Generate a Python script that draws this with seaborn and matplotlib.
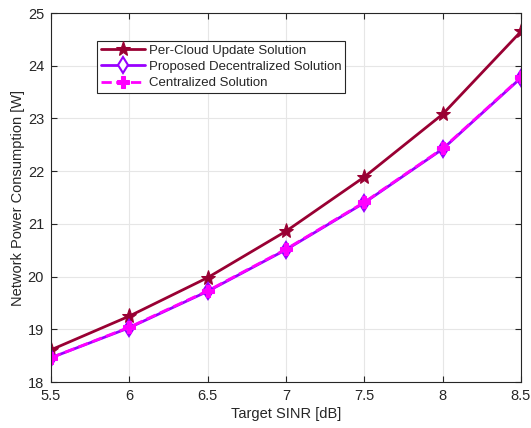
import matplotlib
matplotlib.use("Agg")
import matplotlib.pyplot as plt
import seaborn as sns
import pandas as pd

sinr = [5.5, 6.0, 6.5, 7.0, 7.5, 8.0, 8.5]
per_cloud = [18.61, 19.25, 19.98, 20.86, 21.89, 23.08, 24.65]
proposed = [18.46, 19.03, 19.72, 20.51, 21.40, 22.42, 23.77]
centralized = [18.46, 19.04, 19.73, 20.52, 21.41, 22.43, 23.78]
labels = ["Per-Cloud Update Solution", "Proposed Decentralized Solution", "Centralized Solution"]

sns.set_style("white")
plt.rcParams['font.family'] = ['Liberation Sans', 'DejaVu Sans']

fig = plt.figure(figsize=(5.31, 4.28), dpi=100)
ax = fig.add_axes([51/531, 1-382/428, 470/531, 369/428])

df = pd.DataFrame({"x": sinr, "a": per_cloud, "b": proposed, "c": centralized})
sns.lineplot(data=df, x="x", y="a", ax=ax, color="#990033", lw=2, marker="*",
             markersize=11, markeredgecolor="#990033", label=labels[0])
sns.lineplot(data=df, x="x", y="b", ax=ax, color="#9900FF", lw=2, marker="d",
             markersize=8, markerfacecolor="white", markeredgecolor="#9900FF",
             markeredgewidth=1.5, label=labels[1])
sns.lineplot(data=df, x="x", y="c", ax=ax, color="#FF00FF", lw=2, ls="--", marker="P",
             markersize=9, markeredgecolor="#FF00FF", label=labels[2])

ax.set_xlim(5.5, 8.5)
ax.set_ylim(18, 25)
ax.set_xticks(sinr)
ax.set_xticklabels(["5.5", "6", "6.5", "7", "7.5", "8", "8.5"])
ax.set_yticks(range(18, 26))
ax.grid(True, color="#e6e6e6", lw=0.8)
ax.set_axisbelow(True)
for s in ax.spines.values():
    s.set_color("#262626")
    s.set_linewidth(0.8)
ax.tick_params(direction="in", length=4, width=0.8, colors="#262626", labelsize=10.5,
               pad=5, top=True, right=True, bottom=True, left=True)
ax.set_xlabel("Target SINR [dB]", fontsize=10.5, color="#262626", labelpad=3)
ax.set_ylabel("Network Power Consumption [W]", fontsize=10.5, color="#262626", labelpad=2)

leg = ax.legend(loc="upper left", bbox_to_anchor=(0.098, 0.925), fontsize=9.5,
                frameon=True, fancybox=False, edgecolor="#262626", framealpha=1,
                borderpad=0.3, labelspacing=0.3, handlelength=3.3, handletextpad=0.3,
                borderaxespad=0)
leg.get_frame().set_linewidth(0.8)

fig.savefig("out.png", dpi=100)
